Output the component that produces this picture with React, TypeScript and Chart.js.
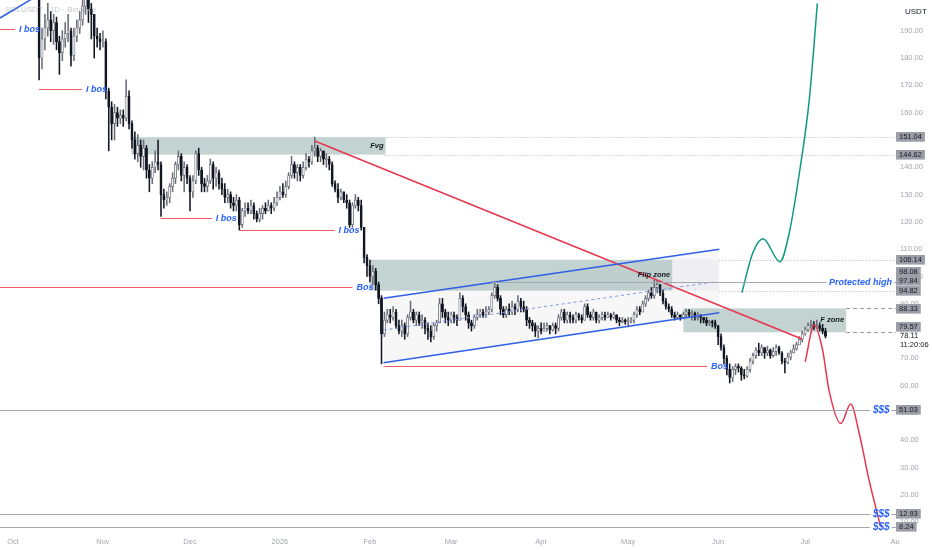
import React, { useEffect, useRef } from "react";
import { Chart, registerables } from "chart.js";

Chart.register(...registerables);

const FONT = "'Liberation Sans', Arial, Helvetica, sans-serif";

// ---------- daily candles, day 0 = 1 Oct 2025 (open = previous close) ----------
const FIRST_OPEN = 212;
const closes = [
  221, 226, 230, 228, 232, 233, 223, 226, 219, 180,
  187, 191, 194, 190, 193, 186, 182, 187, 189, 190,
  181, 188, 191, 194, 199, 203, 198, 196, 188, 187,
  186, 186, 168, 162, 156, 160, 158, 159, 158, 166,
  156, 150, 145, 148, 144, 147, 139, 136, 140, 142,
  141, 130, 128, 129, 133, 136, 141, 144, 137, 140,
  136, 131, 135, 145, 139, 134, 133, 135, 141, 136,
  138, 134, 132, 129, 130, 127, 126, 128, 119, 124,
  125, 124, 126, 123, 121, 123, 125, 124, 126, 125,
  127, 129, 131, 130, 133, 137, 141, 138, 140, 137,
  140, 143, 142, 146, 147, 144, 146, 143, 143, 141,
  134, 132, 129, 131, 128, 127, 119, 126, 128, 126,
  118, 107, 104, 100, 102, 97, 92, 79, 84, 86,
  85, 87, 82, 80, 82, 79, 85, 87, 84, 86,
  83, 84, 81, 80, 78, 82, 83, 90, 87, 85,
  84, 86, 85, 84, 92, 89, 86, 83, 82, 85,
  86, 87, 86, 87, 88, 93, 96, 92, 88, 86,
  88, 87, 89, 88, 91, 89, 88, 84, 83, 82,
  80, 81, 80, 81, 82, 80.5, 82, 81, 85, 87,
  84, 86, 85, 84, 86, 85, 84, 89, 86, 85,
  87, 84, 85, 86, 85, 86, 85, 86, 84, 83.5,
  84, 83.5, 84, 84, 86, 88, 87, 90, 92, 94,
  93, 96, 97, 94, 91, 89, 88, 86, 85, 86,
  85, 86, 87, 86, 86.5, 85, 86, 85, 84, 83,
  83.5, 83, 82, 78, 74, 70, 66, 63, 66, 67,
  66.5, 64, 63.5, 66, 69, 71, 73, 72, 74, 72,
  73, 71, 72.5, 74, 72, 69, 68.5, 70.5, 72, 73.5,
  75, 77, 79, 80.5, 82, 82.5, 81.5, 82, 81, 80, 78.11,
];
const highs = [
  224, 229, 233, 232, 235, 238, 234, 229, 228, 222,
  191, 196, 200, 197, 196, 195, 188, 190, 193, 196,
  191, 191, 194, 197, 206, 208, 205, 200, 196, 191,
  189, 190, 187, 169, 164, 163, 162, 161, 161, 172,
  168, 157, 153, 152, 150, 150, 148, 141, 142, 146,
  150, 142, 132, 131, 134, 138, 142, 146, 145, 142,
  141, 137, 137, 146, 147, 140, 136, 137, 143, 142,
  140, 139, 136, 134, 132, 131, 129, 130, 129, 125,
  127, 127, 128, 127, 124, 125, 126, 127, 128, 127,
  129, 131, 133, 134, 135, 138, 144, 142, 141, 141,
  142, 145, 144, 148, 151, 148, 147, 146, 145, 144,
  142, 135, 134, 132, 131, 130, 128, 127, 130, 129,
  128, 118, 108, 106, 104, 103, 98, 93, 87, 88,
  88, 89, 88, 84, 84, 83, 86, 91, 88, 87,
  87, 86, 85, 83, 82, 83, 84, 92, 92, 88,
  87, 87, 87, 86, 94, 93, 90, 87, 84, 86,
  88, 88, 88, 89, 89, 94, 98, 97, 93, 89,
  89, 90, 91, 90, 93, 92, 91, 89, 85, 84,
  83, 82, 83, 83, 83, 82, 83, 83, 86, 88,
  88, 87, 87, 86, 87, 86.5, 86, 90, 90, 87,
  88, 87, 86, 87, 87, 87, 86.5, 87, 86, 85,
  85, 84.5, 85, 85, 87, 89, 89, 91, 93, 95,
  96, 98.7, 98.5, 97, 95, 92, 90, 89, 87, 87,
  86, 87, 88, 88, 87.5, 87, 87, 86, 85, 85,
  84, 84, 84, 82, 79, 75, 71, 68, 67, 68,
  68, 67, 66, 67, 70, 72, 74, 75.6, 75, 74,
  74.5, 73.5, 74, 75, 74.5, 72.5, 70, 72, 73, 75,
  76, 78, 80, 81.5, 83, 84, 83.5, 84, 83, 82.5, 81,
];
const lows = [
  209, 218, 224, 224, 226, 228, 220, 219, 214, 172,
  176, 183, 188, 186, 185, 183, 174, 179, 184, 186,
  177, 179, 186, 189, 192, 196, 193, 187, 180, 184,
  183, 184, 165, 146, 150, 150, 155, 156, 155, 157,
  154, 147, 143, 142, 140, 139, 136, 131, 134, 138,
  139, 122, 125, 126, 127, 131, 134, 139, 135, 131,
  134, 124, 129, 134, 137, 131, 131, 131, 134, 132,
  133, 132, 130, 127, 127, 125, 124, 124, 117, 118,
  122, 123, 123, 121, 120, 120, 121, 123, 124, 123,
  124, 126, 128, 129, 129, 132, 136, 136, 135, 135,
  136, 139, 140, 141, 144, 142, 142, 141, 140, 139,
  133, 131, 127, 128, 127, 125, 118, 118, 125, 124,
  117, 105, 100, 98, 97, 95, 90, 68, 78, 83,
  83, 84, 81, 79, 78, 77, 78, 84, 83, 82,
  82, 81, 79, 77, 76, 77, 80, 83, 85, 83,
  82, 83, 83, 82, 84, 87, 84, 81, 80, 81,
  84, 85, 85, 85, 86, 87, 92, 91, 86, 85,
  85, 86, 86, 86, 87, 87, 87, 82, 81, 80,
  78, 77.5, 79, 80, 80, 79, 80, 79, 80, 84,
  83, 83, 83, 83, 83, 84, 83, 84, 85, 84,
  84, 83, 83, 84, 84, 85, 84, 84.5, 83, 82,
  83, 82.5, 81.5, 83, 83, 85, 86, 87, 89, 91,
  92, 92, 94, 93, 90, 88, 87, 85, 84, 84.5,
  84, 84.5, 85, 85, 84, 84, 84, 83, 83, 82,
  82, 81.5, 81, 75, 73, 68, 64, 61, 61.5, 64,
  65, 62, 62.5, 63, 65, 68, 70, 71, 71, 70,
  71, 70, 70.5, 71, 71.5, 68, 64.7, 68, 69.5, 72,
  73, 75, 76, 78.5, 80, 81, 80.5, 81, 80, 79, 77.5,
];

// ---------- axes ----------
const monthDays = [0, 31, 61, 92, 123, 151, 182, 212, 243, 273, 304];
const monthLabels = ["Oct", "Nov", "Dec", "2026", "Feb", "Mar", "Apr", "May", "Jun", "Jul", "Au"];
const priceTicks = [10, 20, 30, 40, 50, 60, 70, 80, 90, 100, 110, 120, 130, 140, 150, 160, 170, 180, 190];
const X_MIN = -4.475;
const X_MAX = 304.3;
const Y_MIN = 6.44;
const Y_MAX = 201.25;

// ---------- drawings (day, price) ----------
const trendDays = [104.0, 271.9];
const trendPrices = [149.6, 77.1];
const chanDays = [127.7, 243.4];
const chanUpper = [92.0, 110.0];
const chanLower = [68.4, 86.7];
const chanMidDays = [127.7, 242.2];
const chanMid = [80.4, 98.1];
const oldChanDays = [-4.475, 9.3];
const oldChanPrices = [194.66, 203.4];
const bullDays = [251.2, 254.9, 258.5, 264.3, 267.5, 271.0, 274.4, 277.2];
const bullPrices = [94.1, 108.5, 113.8, 105.4, 115.9, 137.9, 164.6, 200.0];
const bearDays = [273.0, 276.1, 279.0, 281.2, 285.3, 288.7, 291.6, 295.0, 299.0];
const bearPrices = [68.8, 82.2, 73.1, 58.4, 46.2, 53.3, 42.7, 25.5, 8.4];

const zoneLabel = ["Fvg", "Flip zone", "", "F zone"];
const zoneFrom = [40.8, 122.9, 227.2, 231.0];
const zoneTo = [128.4, 227.2, 243.4, 287.1];
const zoneLow = [144.62, 94.82, 94.82, 79.57];
const zoneHigh = [151.04, 106.14, 106.14, 88.33];

const bosPrice = [190.63, 168.84, 121.53, 117.03, 96.2, 67.23];
const bosFrom = [-4.5, 8.95, 50.8, 78.1, -4.5, 127.7];
const bosTo = [0.7, 23.75, 68.5, 110.8, 117.0, 239.2];
const bosText = ["I bos", "I bos", "I bos", "I bos", "Bos", "Bos"];

const liqPrices = [51.03, 12.93, 8.24];
const liqTo = 295.3;
const protPrice = 97.84;
const protFrom = 165.2;
const protTo = 280.2;
const dotPrices = [151.04, 144.62, 106.14, 94.82];
const dotFrom = [128.4, 128.4, 243.4, 243.4];
const dashPrices = [88.33, 79.57];
const dashFrom = [287.1, 287.1];
const axisPrices = [151.04, 144.62, 106.14, 98.08, 97.84, 94.82, 88.33, 79.57, 51.03, 12.93, 8.24];
const lastPrice = 78.11;
const lastTime = "11:20:06";

const BLUE = "#2962ff";
const DARK = "#131722";
const TICK = "#a3a6af";

function hline(ctx: any, x0: number, x1: number, y: number, color: string, dash: number[] = []) {
  ctx.save();
  ctx.strokeStyle = color;
  ctx.lineWidth = 1;
  ctx.setLineDash(dash);
  ctx.beginPath();
  const yy = Math.round(y) + 0.5;
  ctx.moveTo(x0, yy);
  ctx.lineTo(x1, yy);
  ctx.stroke();
  ctx.restore();
}

const overlayPlugin = {
  id: "overlay",
  beforeDatasetsDraw(chart: any) {
    const { ctx, chartArea: a, scales } = chart;
    const xs = scales.x;
    const ys = scales.y;
    ctx.save();
    ctx.beginPath();
    ctx.rect(a.left, a.top, a.right - a.left, a.bottom - a.top);
    ctx.clip();
    zoneFrom.forEach((f, i) => {
      const x0 = xs.getPixelForValue(f);
      const x1 = xs.getPixelForValue(zoneTo[i]);
      const y0 = ys.getPixelForValue(zoneHigh[i]);
      const y1 = ys.getPixelForValue(zoneLow[i]);
      ctx.fillStyle = zoneLabel[i] ? "rgba(112,150,148,0.42)" : "rgba(120,123,134,0.06)";
      ctx.fillRect(x0, y0, x1 - x0, y1 - y0);
    });
    ctx.restore();
  },
  afterDatasetsDraw(chart: any) {
    const { ctx, chartArea: a, scales } = chart;
    const xs = scales.x;
    const ys = scales.y;
    ctx.save();
    ctx.beginPath();
    ctx.rect(a.left, a.top, a.right - a.left, a.bottom - a.top);
    ctx.clip();
    ctx.textBaseline = "middle";

    dotPrices.forEach((p, i) => hline(ctx, xs.getPixelForValue(dotFrom[i]), a.right, ys.getPixelForValue(p), "#b2b5be", [1, 2]));
    dashPrices.forEach((p, i) => hline(ctx, xs.getPixelForValue(dashFrom[i]), a.right, ys.getPixelForValue(p), "#9598a1", [4, 3]));

    ctx.font = `italic bold 9px ${FONT}`;
    bosPrice.forEach((p, i) => {
      const y = ys.getPixelForValue(p);
      const x1 = xs.getPixelForValue(bosTo[i]);
      hline(ctx, xs.getPixelForValue(bosFrom[i]), x1, y, "#ef5a66");
      ctx.fillStyle = BLUE;
      ctx.textAlign = "left";
      ctx.fillText(bosText[i], x1 + 4, Math.round(y) + 0.5);
    });

    ctx.font = `italic bold 10px ${FONT}`;
    const w = ctx.measureText("$$$").width;
    liqPrices.forEach((p) => {
      const y = ys.getPixelForValue(p);
      const x1 = xs.getPixelForValue(liqTo);
      hline(ctx, a.left, x1, y, "#a5a8b0");
      ctx.fillStyle = BLUE;
      ctx.textAlign = "left";
      ctx.fillText("$$$", x1 + 3, Math.round(y) + 0.5);
      hline(ctx, x1 + 5 + w, a.right, y, "#a5a8b0");
    });

    {
      const y = ys.getPixelForValue(protPrice);
      const x1 = xs.getPixelForValue(protTo);
      hline(ctx, xs.getPixelForValue(protFrom), x1, y, "#a5a8b0");
      ctx.font = `italic bold 9px ${FONT}`;
      ctx.fillStyle = BLUE;
      ctx.textAlign = "left";
      ctx.fillText("Protected high", x1 + 3, Math.round(y) + 0.5);
      const tw = ctx.measureText("Protected high").width;
      hline(ctx, x1 + 5 + tw, a.right, y, "#a5a8b0");
    }

    ctx.font = `italic bold 7.5px ${FONT}`;
    ctx.fillStyle = DARK;
    ctx.textAlign = "right";
    zoneLabel.forEach((t, i) => {
      if (!t) return;
      const x1 = xs.getPixelForValue(zoneTo[i]);
      const y = ys.getPixelForValue((zoneLow[i] + zoneHigh[i]) / 2);
      ctx.fillText(t, x1 - 2, y);
    });

    ctx.font = `8px ${FONT}`;
    ctx.fillStyle = "rgba(150,153,162,0.55)";
    ctx.textAlign = "left";
    ctx.fillText("SOLUSDT · 1D · Binance", a.left + 5, 10);
    ctx.restore();
  },
  afterDraw(chart: any) {
    const { ctx, chartArea: a, scales } = chart;
    const ys = scales.y;
    ctx.save();
    ctx.textBaseline = "middle";
    ctx.textAlign = "left";
    ctx.font = `8px ${FONT}`;
    ctx.fillStyle = DARK;
    ctx.fillText("USDT", a.right + 9, 12);

    const H = 9.6;
    const items = axisPrices.map((p) => ({ p, y: ys.getPixelForValue(p), top: 0, bottom: 0, last: false }));
    const yl = ys.getPixelForValue(lastPrice);
    items.push({ p: lastPrice, y: yl, top: 0, bottom: 0, last: true });
    items.sort((u, v) => u.y - v.y);
    for (const it of items) {
      it.top = it.y - H / 2;
      it.bottom = it.last ? it.y + H / 2 + 9 : it.y + H / 2;
    }
    for (let i = items.length - 2; i >= 0; i--) {
      const below = items[i + 1];
      const it = items[i];
      if (it.bottom > below.top) {
        const shift = it.bottom - below.top;
        it.top -= shift;
        it.bottom -= shift;
        it.y -= shift;
      }
    }
    ctx.font = `7.5px ${FONT}`;
    for (const it of items) {
      if (it.last) {
        ctx.fillStyle = DARK;
        ctx.fillText(lastPrice.toFixed(2), a.right + 4, it.y);
        ctx.fillText(lastTime, a.right + 4, it.y + 9);
        continue;
      }
      const label = it.p.toFixed(2);
      const tw = ctx.measureText(label).width;
      ctx.fillStyle = "#9b9ea6";
      ctx.fillRect(a.right, Math.round(it.top), tw + 6, H);
      ctx.fillStyle = DARK;
      ctx.fillText(label, a.right + 3, Math.round(it.top) + H / 2 + 0.5);
    }
    ctx.restore();
  },
};

export default function App() {
  const canvasRef = useRef<HTMLCanvasElement | null>(null);

  useEffect(() => {
    if (!canvasRef.current) return;
    const days = closes.map((_, i) => i);
    const opens = closes.map((c, i) => (i === 0 ? FIRST_OPEN : closes[i - 1]));
    const isUp = days.map((i) => closes[i] >= opens[i]);
    const bodyData = days.map((i) => {
      const lo = Math.min(opens[i], closes[i]);
      const hi = Math.max(opens[i], closes[i]);
      const pad = hi - lo < 0.35 ? (0.35 - (hi - lo)) / 2 : 0;
      return { x: i, y: [lo - pad, hi + pad] };
    });
    const wickData = days.map((i) => ({
      x: i,
      y: [Math.min(lows[i], opens[i], closes[i]), Math.max(highs[i], opens[i], closes[i])],
    }));
    const pts = (xs: number[], ys: number[]) => xs.map((x, i) => ({ x, y: ys[i] }));
    const lineDs = (data: any[], color: string, width: number, extra: any = {}) => ({
      type: "line",
      data,
      borderColor: color,
      borderWidth: width,
      pointRadius: 0,
      fill: false,
      order: 0,
      clip: 0,
      ...extra,
    });

    const chart = new Chart(canvasRef.current, {
      type: "bar",
      data: {
        datasets: [
          {
            type: "bar",
            data: bodyData,
            backgroundColor: isUp.map((u) => (u ? "#f4f4f4" : "#131722")),
            borderColor: isUp.map((u) => (u ? "#5d606b" : "#131722")),
            borderWidth: 0.7,
            borderSkipped: false,
            barThickness: 2.2,
            grouped: false,
            order: 1,
            clip: 0,
          },
          {
            type: "bar",
            data: wickData,
            backgroundColor: isUp.map((u) => (u ? "#6a6d78" : "#131722")),
            borderWidth: 0,
            barThickness: 0.9,
            grouped: false,
            order: 2,
            clip: 0,
          },
          lineDs(pts(chanDays, chanUpper), "#2f5fe6", 1.5, {
            fill: "+1",
            backgroundColor: "rgba(120,123,134,0.06)",
          }),
          lineDs(pts(chanDays, chanLower), "#2f5fe6", 1.5),
          lineDs(pts(chanMidDays, chanMid), "#7d95ec", 1, { borderDash: [3, 3] }),
          lineDs(pts(oldChanDays, oldChanPrices), "#2f5fe6", 1.5),
          lineDs(pts(trendDays, trendPrices), "#e5374f", 1.5),
          lineDs(pts(bullDays, bullPrices), "#0f9a7e", 1.5, { cubicInterpolationMode: "monotone" }),
          lineDs(pts(bearDays, bearPrices), "#e5374f", 1.5, { cubicInterpolationMode: "monotone" }),
        ] as any,
      },
      options: {
        responsive: false,
        animation: false,
        events: [],
        layout: { padding: 0 },
        plugins: {
          legend: { display: false },
          tooltip: { enabled: false },
          filler: { drawTime: "beforeDatasetsDraw" },
        } as any,
        scales: {
          x: {
            type: "linear",
            position: "bottom",
            min: X_MIN,
            max: X_MAX,
            offset: false,
            grid: { display: false, drawTicks: false, offset: false },
            border: { display: false },
            ticks: {
              color: TICK,
              font: { size: 7.5, family: FONT },
              padding: 5,
              autoSkip: false,
              maxRotation: 0,
              callback: (v: any) => {
                const k = monthDays.indexOf(Number(v));
                return k >= 0 ? monthLabels[k] : "";
              },
            },
            afterBuildTicks: (s: any) => {
              s.ticks = monthDays.map((v) => ({ value: v }));
            },
            afterFit: (s: any) => {
              s.height = 18;
              s.paddingLeft = 0;
              s.paddingRight = 0;
            },
          },
          y: {
            type: "linear",
            position: "right",
            min: Y_MIN,
            max: Y_MAX,
            grid: { display: false, drawTicks: false },
            border: { display: false },
            ticks: {
              color: TICK,
              font: { size: 7.5, family: FONT },
              padding: 4,
              autoSkip: false,
              callback: (v: any) => Number(v).toFixed(2),
            },
            afterBuildTicks: (s: any) => {
              s.ticks = priceTicks.map((v) => ({ value: v }));
            },
            afterFit: (s: any) => {
              s.width = 36;
              s.paddingTop = 0;
              s.paddingBottom = 0;
            },
          },
        } as any,
      },
      plugins: [overlayPlugin],
    } as any);
    return () => chart.destroy();
  }, []);

  return (
    <div style={{ position: "absolute", left: 0, top: 0, width: 932, height: 550, background: "#ffffff" }}>
      <canvas ref={canvasRef} width={932} height={550} style={{ display: "block" }} />
    </div>
  );
}
